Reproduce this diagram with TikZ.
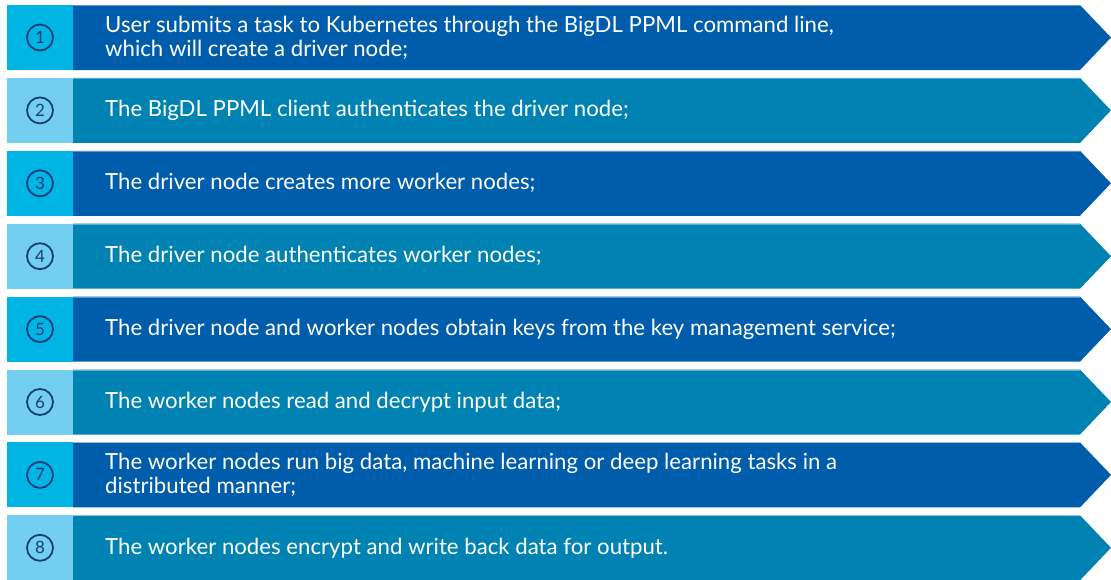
\documentclass[tikz,border=0pt]{standalone}
\usepackage{fontspec}
\setmainfont{Lato}
\definecolor{oddLeft}{HTML}{00B5E3}
\definecolor{evenLeft}{HTML}{73CEEF}
\definecolor{oddMain}{HTML}{005DAC}
\definecolor{evenMain}{HTML}{0083B3}
\definecolor{numInk}{HTML}{163E78}
\tikzset{
  numcirc/.style={circle, draw=numInk, line width=1.8pt, minimum size=26pt, inner sep=0pt, text=numInk, font=\fontsize{17}{17}\selectfont},
  steptext/.style={anchor=west, align=left, text=white, font=\fontsize{22.2}{24}\selectfont, inner sep=0pt},
}
\begin{document}
\begin{tikzpicture}[x=1pt,y=-1pt]
\useasboundingbox (0,0) rectangle (1111,579);
\foreach \k/\txt in {
 1/{User submits a task to Kubernetes through the BigDL PPML command line,\\which will create a driver node;},
 2/{The BigDL PPML client authenticates the driver node;},
 3/{The driver node creates more worker nodes;},
 4/{The driver node authenticates worker nodes;},
 5/{The driver node and worker nodes obtain keys from the key management service;},
 6/{The worker nodes read and decrypt input data;},
 7/{The worker nodes run big data, machine learning or deep learning tasks in a\\distributed manner;},
 8/{The worker nodes encrypt and write back data for output.}} {
  \pgfmathsetmacro{\rtop}{5+72.9*(\k-1)}
  \pgfmathsetmacro{\rbot}{\rtop+65}
  \pgfmathsetmacro{\rmid}{\rtop+32.5}
  \pgfmathtruncatemacro{\odd}{mod(\k,2)}
  \ifnum\odd=1
    \def\lc{oddLeft}\def\mc{oddMain}
  \else
    \def\lc{evenLeft}\def\mc{evenMain}
  \fi
  \fill[\lc] (7,\rtop) rectangle (73,\rbot);
  \fill[\mc] (73,\rtop) -- (1080,\rtop) -- (1111,\rmid) -- (1080,\rbot) -- (73,\rbot) -- cycle;
  \draw[white, opacity=0.35, line width=0.8pt] (73,\rtop+0.4) -- (1080,\rtop+0.4);
  \node[numcirc] (num\k) at (40,\rmid) {\k};
  \node[steptext] (txt\k) at (105,\rmid) {\txt};
}
\end{tikzpicture}
\end{document}
